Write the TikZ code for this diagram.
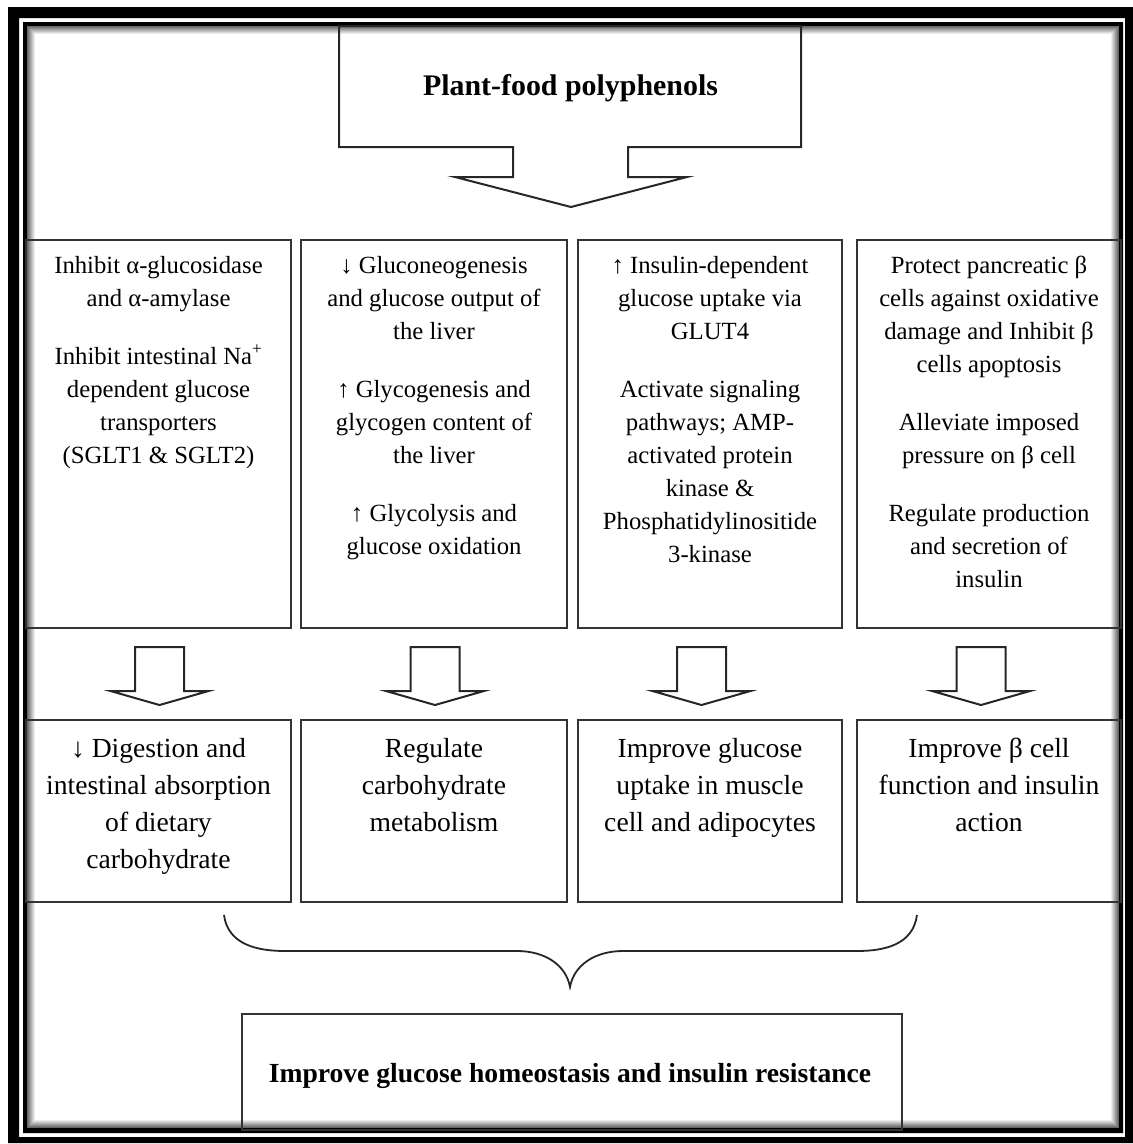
\documentclass[tikz,border=0pt]{standalone}
\usepackage{fontspec}
\setmainfont{Liberation Serif}
\begin{document}
\begin{tikzpicture}[x=1pt,y=-1pt,
  boxst/.style={draw=black!80, line width=2pt, inner sep=0pt, outer sep=0pt, rectangle},
  toptext/.style={align=center, inner sep=0pt, anchor=base, font=\fontsize{24.7}{33}\selectfont},
  bottext/.style={align=center, inner sep=0pt, anchor=base, font=\fontsize{27.6}{37}\selectfont},
  titletext/.style={inner sep=0pt, anchor=base, font=\fontsize{29.9}{36}\selectfont\bfseries},
  arrowline/.style={draw=black!85, line width=2pt, line join=miter},
  darrow/.pic={\draw[arrowline] (-24.5,0) -- (24.5,0) -- (24.5,44) -- (49,44) -- (0,58) -- (-49,44) -- (-24.5,44) -- cycle;}
]
\useasboundingbox (0,0) rectangle (1133,1144);
% outer frame
\fill[black, even odd rule] (8,7) rectangle (1133,1143) (19,18) rectangle (1125,1137);
\fill[black, even odd rule] (23,22) rectangle (1123,1133) (27,26) rectangle (1119,1128);
% inner shadow
\foreach \i in {0,...,7}{
  \pgfmathsetmacro{\c}{60-7.5*\i}
  \draw[black!\c, line width=1pt] (27.5+\i,26.5+\i) rectangle (1118.5-\i,1127.5-\i);
}
% top source arrow
\draw[arrowline] (339,26) -- (801,26) -- (801,147) -- (628,147) -- (628,177) -- (687,177) -- (571,207) -- (455,177) -- (513,177) -- (513,147) -- (339,147) -- cycle;
\node[titletext] (src) at (570.5,95) {Plant-food polyphenols};
% top row boxes
\node[boxst, minimum width=265, minimum height=388] (m1) at (158.5,434) {};
\node[boxst, minimum width=266, minimum height=388] (m2) at (434,434) {};
\node[boxst, minimum width=264, minimum height=388] (m3) at (710,434) {};
\node[boxst, minimum width=264, minimum height=388] (m4) at (989,434) {};
% bottom row boxes
\node[boxst, minimum width=265, minimum height=182] (r1) at (158.5,811) {};
\node[boxst, minimum width=266, minimum height=182] (r2) at (434,811) {};
\node[boxst, minimum width=264, minimum height=182] (r3) at (710,811) {};
\node[boxst, minimum width=264, minimum height=182] (r4) at (989,811) {};
% final box
\node[boxst, minimum width=660, minimum height=116] (fin) at (572,1072) {};
% texts top row (anchored at the baseline of the last line)
\node[toptext] (m1t) at (158.5,463) {Inhibit α-glucosidase\\and α-amylase\\[25pt]Inhibit intestinal Na\textsuperscript{+}\\dependent glucose\\transporters\\(SGLT1 \& SGLT2)};
\node[toptext] (m2t) at (434,554) {↓ Gluconeogenesis\\and glucose output of\\the liver\\[25pt]↑ Glycogenesis and\\glycogen content of\\the liver\\[25pt]↑ Glycolysis and\\glucose oxidation};
\node[toptext] (m3t) at (710,562) {↑ Insulin-dependent\\glucose uptake via\\GLUT4\\[25pt]Activate signaling\\pathways; AMP-\\activated protein\\kinase \&\\Phosphatidylinositide\\3-kinase};
\node[toptext] (m4t) at (989,587) {Protect pancreatic β\\cells against oxidative\\damage and Inhibit β\\cells apoptosis\\[25pt]Alleviate imposed\\pressure on β cell\\[25pt]Regulate production\\and secretion of\\insulin};
% texts bottom row
\node[bottext] (r1t) at (158.5,868) {↓ Digestion and\\intestinal absorption\\of dietary\\carbohydrate};
\node[bottext] (r2t) at (434,831) {Regulate\\carbohydrate\\metabolism};
\node[bottext] (r3t) at (710,831) {Improve glucose\\uptake in muscle\\cell and adipocytes};
\node[bottext] (r4t) at (989,831) {Improve β cell\\function and insulin\\action};
\node[titletext, font=\fontsize{27.6}{33}\selectfont\bfseries] (fint) at (570,1082) {Improve glucose homeostasis and insulin resistance};
% block arrows between rows
\pic at (159.5,647) {darrow};
\pic at (435,647) {darrow};
\pic at (701.5,647) {darrow};
\pic at (981,647) {darrow};
% brace
\draw[black!85, line width=1.8pt] (224,915) .. controls (228,945) and (258,951) .. (285,951) -- (517,951) .. controls (545,951) and (566,965) .. (570,987) .. controls (574,965) and (595,951) .. (623,951) -- (857,951) .. controls (884,951) and (913,945) .. (917,915);
\end{tikzpicture}
\end{document}
